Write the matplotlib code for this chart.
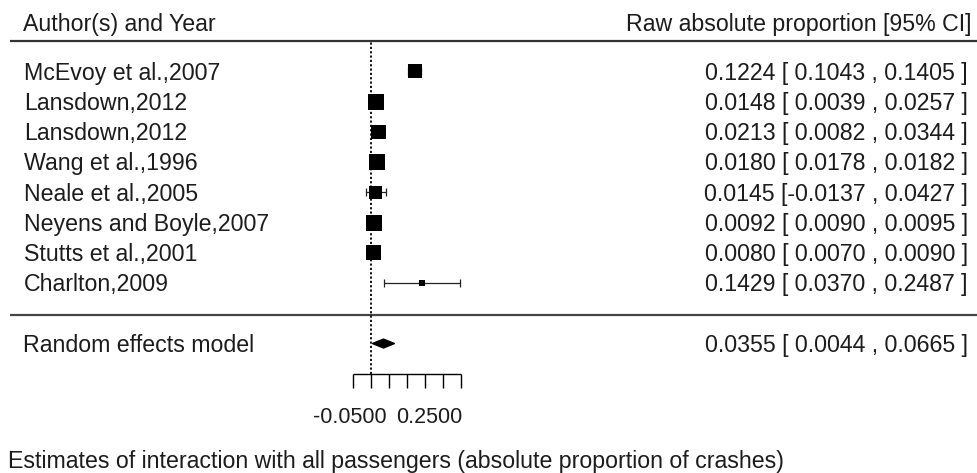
"""
Forest plot: interaction with all passengers (absolute proportion of crashes)
"""

import matplotlib
matplotlib.use('Agg')
import matplotlib.pyplot as plt
from matplotlib.patches import Polygon

plt.rcParams['font.family'] = ['Liberation Sans', 'DejaVu Sans']

# Study data
studies = ['McEvoy et al.,2007', 'Lansdown,2012', 'Lansdown,2012', 'Wang et al.,1996',
           'Neale et al.,2005', 'Neyens and Boyle,2007', 'Stutts et al.,2001', 'Charlton,2009']
estimates = [0.1224, 0.0148, 0.0213, 0.0180, 0.0145, 0.0092, 0.0080, 0.1429]
ci_lower = [0.1043, 0.0039, 0.0082, 0.0178, -0.0137, 0.0090, 0.0070, 0.0370]
ci_upper = [0.1405, 0.0257, 0.0344, 0.0182, 0.0427, 0.0095, 0.0090, 0.2487]
# estimated study weights (%), from the square sizes
weights = [12.1, 13.5, 12.45, 13.5, 11.4, 13.5, 12.8, 6.0]

# Random effects summary
re_label = 'Random effects model'
re_est = 0.0355
re_lower = 0.0044
re_upper = 0.0665

x_ticks = [-0.05, 0.0, 0.05, 0.10, 0.15, 0.20, 0.25]
tick_label_left = '-0.0500'
tick_label_right = '0.2500'

header_left = 'Author(s) and Year'
header_right = 'Raw absolute proportion [95% CI]'
footer = 'Estimates of interaction with all passengers (absolute proportion of crashes)'

TEXT_COLOR = '#1c1c1c'
FONT_SIZE = 16.7
TICK_SIZE = 15.5
CAP_OFF = 0.275  # half cap height in row units

fig = plt.figure(figsize=(9.77, 4.73), dpi=100)
ax = fig.add_axes([0, 0, 1, 1])
ax.set_xlim(-1.0297, 1.6842)
ax.set_ylim(-5.28, 10.357)
ax.axis('off')

k = len(studies)
rows = list(range(k, 0, -1))
x_left = -0.963
x_right = 1.659
x_line_start = -1.002
x_line_end = 1.6842

# header and separator lines
ax.hlines([k + 1], x_line_start, x_line_end, color='#333333', linewidth=1.6)
ax.hlines([-0.05], x_line_start, x_line_end, color='#444444', linewidth=1.6)
ax.text(-0.966, k + 1.6 - CAP_OFF, header_left, fontsize=FONT_SIZE, color=TEXT_COLOR, va='baseline', ha='left')
ax.text(x_right + 0.01, k + 1.6 - CAP_OFF, header_right, fontsize=FONT_SIZE, color=TEXT_COLOR, va='baseline', ha='right')

# reference line at zero
ax.vlines(0, -2, k + 1, color='black', linewidth=1.3, linestyles=(0, (1.2, 1.2)))

# confidence intervals with end caps
ax.hlines(rows, ci_lower, ci_upper, color='#222222', linewidth=0.9, zorder=2)
ax.plot(ci_lower + ci_upper, rows + rows, linestyle='none', marker='|', markersize=5.2,
        markeredgewidth=0.9, color='#222222', zorder=2)

# squares sized by weight
wmin, wmax = min(weights), max(weights)
sizes = [10.67 * 0.72 * (0.5 + (w - wmin) / (wmax - wmin)) for w in weights]
ax.scatter(estimates, rows, marker='s', s=[sz ** 2 for sz in sizes], color='black',
           linewidths=0, zorder=3)

# study labels and estimates
for r, name, est, lo, hi in zip(rows, studies, estimates, ci_lower, ci_upper):
    ax.text(x_left, r - CAP_OFF, name, fontsize=FONT_SIZE, color=TEXT_COLOR, va='baseline', ha='left')
    ax.text(x_right, r - CAP_OFF, f'{est:.4f} [{lo:7.4f} , {hi:.4f} ]',
            fontsize=FONT_SIZE, color=TEXT_COLOR, va='baseline', ha='right')

# summary diamond
re_row = -1
diamond = Polygon([(re_lower, re_row), (re_est, re_row + 0.15), (re_upper, re_row), (re_est, re_row - 0.15)],
                  closed=True, facecolor='black', edgecolor='black', linewidth=0.9)
ax.add_patch(diamond)
ax.text(x_left - 0.003, re_row - CAP_OFF, re_label, fontsize=FONT_SIZE, color=TEXT_COLOR, va='baseline', ha='left')
ax.text(x_right, re_row - CAP_OFF, f'{re_est:.4f} [{re_lower:7.4f} , {re_upper:.4f} ]',
        fontsize=FONT_SIZE, color=TEXT_COLOR, va='baseline', ha='right')

# x axis drawn R style
ax.hlines(-2, x_ticks[0], x_ticks[-1], color='black', linewidth=1.0)
ax.vlines(x_ticks, -2.47, -2, color='black', linewidth=1.0)
ax.annotate(tick_label_left, (x_ticks[0], -3.36 - CAP_OFF), xytext=(-2.2, 0), textcoords='offset points',
            fontsize=TICK_SIZE, color=TEXT_COLOR, va='baseline', ha='center')
ax.annotate(tick_label_right, (x_ticks[-1], -3.36 - CAP_OFF), xytext=(1.5, 0), textcoords='offset points',
            fontsize=TICK_SIZE, color=TEXT_COLOR, va='baseline', ha='right')

# caption
ax.text(-1.0075, -4.83 - CAP_OFF, footer, fontsize=FONT_SIZE, color=TEXT_COLOR, va='baseline', ha='left')

plt.savefig('out.png', dpi=100)
plt.close()
